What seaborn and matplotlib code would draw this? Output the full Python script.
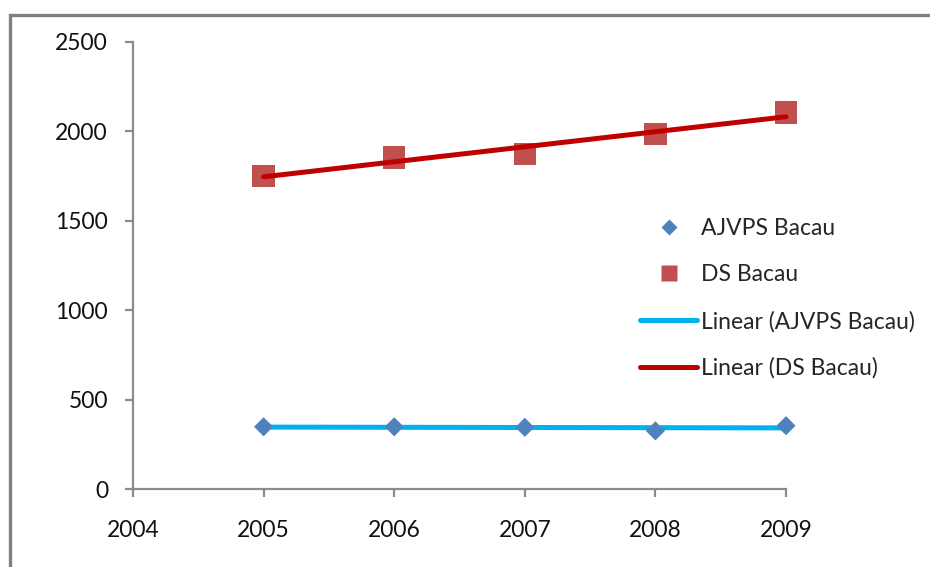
import numpy as np
import pandas as pd
import matplotlib
matplotlib.use("Agg")
import matplotlib.pyplot as plt
from matplotlib.lines import Line2D
import seaborn as sns

years = [2005, 2006, 2007, 2008, 2009]
ajvps_bacau = [348, 348, 345, 325, 354]
ds_bacau = [1750, 1855, 1875, 1985, 2105]
x_ticks = [2004, 2005, 2006, 2007, 2008, 2009]
y_ticks = [0, 500, 1000, 1500, 2000, 2500]

sns.set_theme(style="white")
plt.rcParams["font.family"] = ["Lato", "DejaVu Sans"]

blue_pts = "#4F81BD"
red_pts = "#C0504D"
blue_line = "#00B0F0"
red_line = "#C00000"
axis_gray = "#8C8C8C"

df = pd.DataFrame({"year": years, "AJVPS Bacau": ajvps_bacau, "DS Bacau": ds_bacau})

fig = plt.figure(figsize=(9.3, 5.67), dpi=100)
fig.patch.set_facecolor("white")
ax = fig.add_axes([133 / 930, 78 / 567, (786 - 133) / 930, (489 - 42) / 567])

# Linear trend lines
sns.regplot(data=df, x="year", y="AJVPS Bacau", scatter=False, ci=None, ax=ax,
            line_kws=dict(color=blue_line, lw=3.6, zorder=2, clip_on=False))
sns.regplot(data=df, x="year", y="DS Bacau", scatter=False, ci=None, ax=ax,
            line_kws=dict(color=red_line, lw=3.6, zorder=2, clip_on=False))

# Observed values
sns.scatterplot(data=df, x="year", y="AJVPS Bacau", ax=ax, marker="D", s=95,
                color=blue_pts, edgecolor="none", zorder=3, legend=False, clip_on=False)
sns.scatterplot(data=df, x="year", y="DS Bacau", ax=ax, marker="s", s=260,
                color=red_pts, edgecolor="none", zorder=1, legend=False, clip_on=False)

ax.set_xlim(2004, 2009)
ax.set_ylim(0, 2500)
ax.set_xticks(x_ticks)
ax.set_yticks(y_ticks)
ax.set_xlabel("")
ax.set_ylabel("")
for side in ("top", "right"):
    ax.spines[side].set_visible(False)
for side in ("left", "bottom"):
    ax.spines[side].set_color(axis_gray)
    ax.spines[side].set_linewidth(1.6)
ax.tick_params(axis="both", which="major", direction="out", length=6, width=1.6,
               color=axis_gray, labelsize=16.5, labelcolor="#111111",
               bottom=True, left=True)
ax.tick_params(axis="x", pad=16)
ax.tick_params(axis="y", pad=12)
ax.set_facecolor("white")

handles = [
    Line2D([], [], ls="none", marker="D", ms=8.5, color=blue_pts, mec="none"),
    Line2D([], [], ls="none", marker="s", ms=12, color=red_pts, mec="none"),
    Line2D([], [], color=blue_line, lw=3.6),
    Line2D([], [], color=red_line, lw=3.6),
]
labels = ["AJVPS Bacau", "DS Bacau", "Linear (AJVPS Bacau)", "Linear (DS Bacau)"]
fig.legend(handles, labels, loc="upper left", bbox_to_anchor=(631 / 930, 1 - 209 / 567),
           frameon=False, fontsize=16.5, handlelength=2.5, handletextpad=0.15,
           labelspacing=1.1, borderaxespad=0)

# Chart frame (top and left edges visible)
frame = plt.Rectangle((10 / 930, -0.05), 1.1, 1 - 15 / 567 + 0.05, transform=fig.transFigure,
                      fill=False, edgecolor="#808080", lw=2.4, zorder=0)
fig.add_artist(frame)

fig.savefig("out.png", dpi=100, facecolor="white")
